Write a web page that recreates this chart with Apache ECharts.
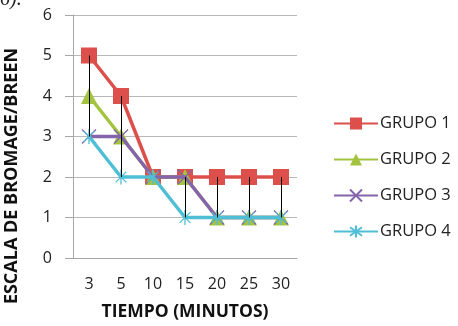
<!DOCTYPE html>
<html>
<head>
<meta charset="utf-8">
<script src="https://cdn.jsdelivr.net/npm/echarts@6/dist/echarts.min.js"></script>
<style>
  html, body { margin: 0; padding: 0; background: #fff; }
  #chart { width: 458px; height: 326px; }
</style>
</head>
<body>
<div id="chart"></div>
<script>
// Tiempo (minutos) en el eje X
const categories = ['3', '5', '10', '15', '20', '25', '30'];
const yTicks = [0, 1, 2, 3, 4, 5, 6];

// Escala de Bromage/Breen por grupo
const grupo1 = [5, 4, 2, 2, 2, 2, 2];
const grupo2 = [4, 3, 2, 2, 1, 1, 1];
const grupo3 = [3, 3, 2, 2, 1, 1, 1];
const grupo4 = [3, 2, 2, 1, 1, 1, 1];

const seriesNames = ['GRUPO 1', 'GRUPO 2', 'GRUPO 3', 'GRUPO 4'];
const seriesData = [grupo1, grupo2, grupo3, grupo4];
const colors = ['#DD4F4B', '#A4C43F', '#8564AC', '#4FBFD6'];

// Líneas máximo-mínimo por categoría
const hiLo = categories.map((c, i) => {
  const vals = seriesData.map(s => s[i]);
  return [i, Math.max(...vals), Math.min(...vals)];
});

const symX = 'path://M0,0L10,10M10,0L0,10';
const symStar = 'path://M0,0L10,10M10,0L0,10M5,-2L5,12';

const symbols = ['rect', 'triangle', symX, symStar];
const symbolSizes = [16, 16, 14, 15];

const chart = echarts.init(document.getElementById('chart'), null, { renderer: 'canvas' });

const lineSeries = seriesNames.map((name, k) => {
  const isStroke = k >= 2;
  return {
    name: name,
    type: 'line',
    data: seriesData[k],
    symbol: symbols[k],
    symbolSize: symbolSizes[k],
    showAllSymbol: true,
    symbolKeepAspect: true,
    lineStyle: { color: colors[k], width: 3.5 },
    itemStyle: isStroke
      ? { color: 'rgba(0,0,0,0)', borderColor: colors[k], borderWidth: 1.3, opacity: 1 }
      : { color: colors[k], borderColor: colors[k], borderWidth: 0 },
    z: 2 + k,
    emphasis: { disabled: true },
    animation: false
  };
});

const option = {
  animation: false,
  textStyle: { fontFamily: 'Open Sans' },
  grid: { left: 73, right: 161, top: 15, bottom: 63 },
  legend: {
    orient: 'vertical',
    left: 328,
    top: 110,
    itemWidth: 44,
    itemHeight: 15,
    itemGap: 19,
    data: seriesNames,
    textStyle: { fontSize: 16.5, color: '#222', fontFamily: 'Open Sans', padding: [0, 0, 0, -3] }
  },
  xAxis: {
    type: 'category',
    data: categories,
    boundaryGap: true,
    name: 'TIEMPO (MINUTOS)',
    nameLocation: 'middle',
    nameGap: 45,
    nameTextStyle: { fontSize: 17.5, fontWeight: 'bold', color: '#111' },
    axisLine: { lineStyle: { color: '#A6A6A6', width: 1 } },
    axisTick: { show: false },
    axisLabel: { fontSize: 16, color: '#222', margin: 18 }
  },
  yAxis: {
    type: 'value',
    min: yTicks[0],
    max: yTicks[yTicks.length - 1],
    interval: 1,
    axisLine: { show: true, lineStyle: { color: '#A6A6A6', width: 1 } },
    axisTick: { show: true, length: 8, lineStyle: { color: '#A6A6A6' } },
    splitLine: { lineStyle: { color: '#B8B8B8', width: 1 } },
    axisLabel: { fontSize: 16, color: '#222', margin: 21 }
  },
  graphic: [{
    type: 'text',
    left: 0,
    top: -10,
    style: { text: '6).', font: 'italic 20px "Liberation Serif"', fill: '#222' }
  }, {
    type: 'text',
    x: 12,
    y: 176,
    rotation: Math.PI / 2,
    style: {
      text: 'ESCALA DE BROMAGE/BREEN',
      font: 'bold 18px "Open Sans"',
      fill: '#111',
      align: 'center',
      verticalAlign: 'middle'
    }
  }],
  series: lineSeries.concat([{
    type: 'custom',
    name: 'hilo',
    data: hiLo,
    z: 10,
    silent: true,
    encode: { x: 0, y: [1, 2] },
    renderItem: function (params, api) {
      const top = api.coord([api.value(0), api.value(1)]);
      const bot = api.coord([api.value(0), api.value(2)]);
      return {
        type: 'line',
        shape: { x1: Math.round(top[0]) + 0.5, y1: top[1], x2: Math.round(bot[0]) + 0.5, y2: bot[1] },
        style: { stroke: '#000', lineWidth: 1 }
      };
    }
  }])
};

chart.setOption(option);
</script>
</body>
</html>
